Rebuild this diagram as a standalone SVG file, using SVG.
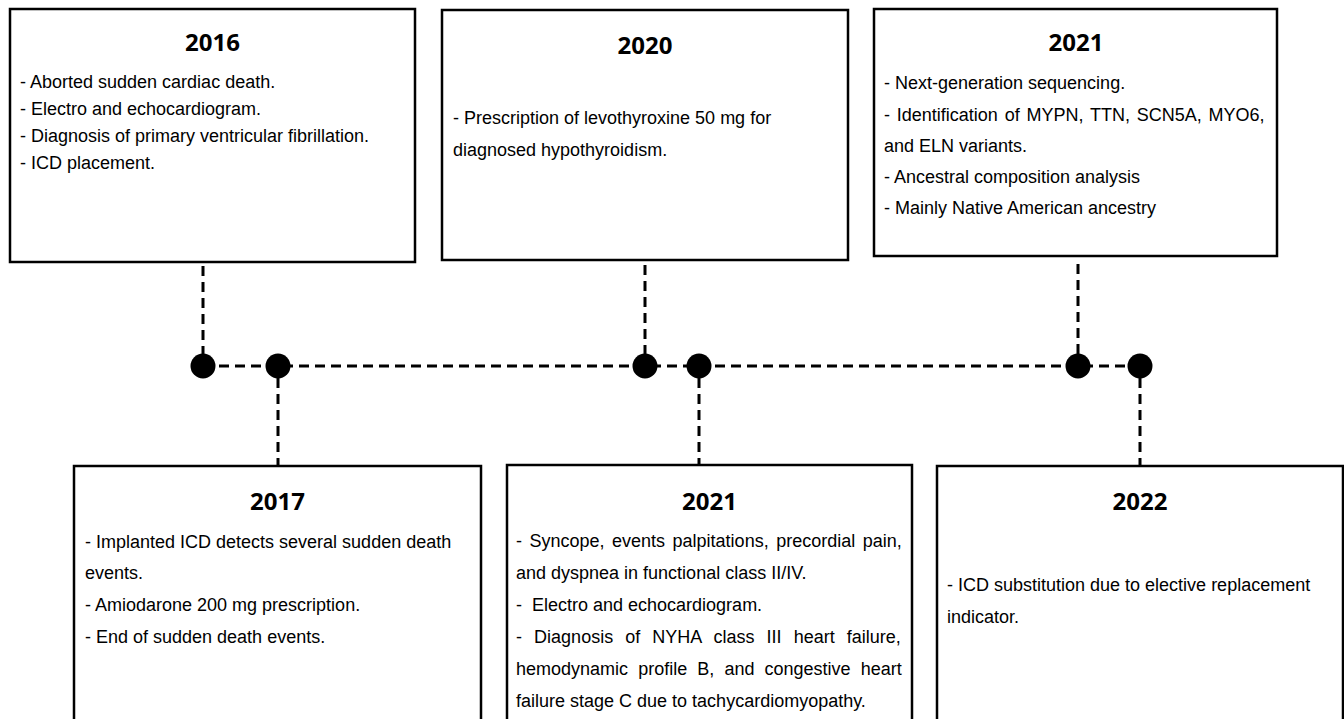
<svg xmlns="http://www.w3.org/2000/svg" width="1344" height="719" viewBox="0 0 1344 719">
<style>
.box{fill:#fff;stroke:#000;stroke-width:2.5}
.title{font-family:"Open Sans","Liberation Sans",sans-serif;font-weight:bold;font-size:24px;fill:#000;text-anchor:middle}
.body{font-family:"Liberation Sans",Arial,sans-serif;font-size:18px;fill:#000}
.dash{stroke:#000;stroke-width:3;stroke-dasharray:10 6;fill:none}
.dot{fill:#000}
</style>
<rect width="1344" height="719" fill="#fff"/>
<g id="connectors">
<line class="dash" x1="203" y1="366" x2="1140" y2="366"/>
<line class="dash" x1="203" y1="266" x2="203" y2="354"/>
<line class="dash" x1="645" y1="265" x2="645" y2="354"/>
<line class="dash" x1="1078" y1="264" x2="1078" y2="354"/>
<line class="dash" x1="278" y1="378" x2="278" y2="465"/>
<line class="dash" x1="699" y1="378" x2="699" y2="465"/>
<line class="dash" x1="1140" y1="378" x2="1140" y2="465"/>
<circle class="dot" cx="203" cy="366" r="12.5"/>
<circle class="dot" cx="278" cy="366" r="12.5"/>
<circle class="dot" cx="645" cy="366" r="12.5"/>
<circle class="dot" cx="699" cy="366" r="12.5"/>
<circle class="dot" cx="1078" cy="366" r="12.5"/>
<circle class="dot" cx="1140" cy="366" r="12.5"/>
</g>
<g id="node-2016">
<rect class="box" x="10" y="9" width="405" height="253"/>
<text class="title" x="212.5" y="51">2016</text>
<text class="body" x="20" y="88">- Aborted sudden cardiac death.</text>
<text class="body" x="20" y="115">- Electro and echocardiogram.</text>
<text class="body" x="20" y="142">- Diagnosis of primary ventricular fibrillation.</text>
<text class="body" x="20" y="169">- ICD placement.</text>
</g>
<g id="node-2020">
<rect class="box" x="442" y="10" width="406" height="250"/>
<text class="title" x="645" y="54">2020</text>
<text class="body" x="453" y="124">- Prescription of levothyroxine 50 mg for</text>
<text class="body" x="453" y="156">diagnosed hypothyroidism.</text>
</g>
<g id="node-2021-top">
<rect class="box" x="874" y="9" width="403" height="247"/>
<text class="title" x="1076" y="51">2021</text>
<text class="body" x="884" y="89">- Next-generation sequencing.</text>
<text class="body" x="884" y="121" style="word-spacing:1.8px">- Identification of MYPN, TTN, SCN5A, MYO6,</text>
<text class="body" x="884" y="152">and ELN variants.</text>
<text class="body" x="884" y="183">- Ancestral composition analysis</text>
<text class="body" x="884" y="214">- Mainly Native American ancestry</text>
</g>
<g id="node-2017">
<rect class="box" x="74" y="466" width="407" height="270"/>
<text class="title" x="277.5" y="510">2017</text>
<text class="body" x="85" y="548">- Implanted ICD detects several sudden death</text>
<text class="body" x="85" y="579">events.</text>
<text class="body" x="85" y="611">- Amiodarone 200 mg prescription.</text>
<text class="body" x="85" y="643">- End of sudden death events.</text>
</g>
<g id="node-2021-bottom">
<rect class="box" x="507" y="465" width="405" height="270"/>
<text class="title" x="709.5" y="510">2021</text>
<text class="body" x="516" y="547" style="word-spacing:2.5px">- Syncope, events palpitations, precordial pain,</text>
<text class="body" x="516" y="579">and dyspnea in functional class II/IV.</text>
<text class="body" x="516" y="611" xml:space="preserve">-  Electro and echocardiogram.</text>
<text class="body" x="516" y="643" style="word-spacing:7.1px">- Diagnosis of NYHA class III heart failure,</text>
<text class="body" x="516" y="675" style="word-spacing:5.1px">hemodynamic profile B, and congestive heart</text>
<text class="body" x="516" y="707">failure stage C due to tachycardiomyopathy.</text>
</g>
<g id="node-2022">
<rect class="box" x="937" y="466" width="406" height="270"/>
<text class="title" x="1140" y="510">2022</text>
<text class="body" x="947" y="591">- ICD substitution due to elective replacement</text>
<text class="body" x="947" y="623">indicator.</text>
</g>
</svg>
